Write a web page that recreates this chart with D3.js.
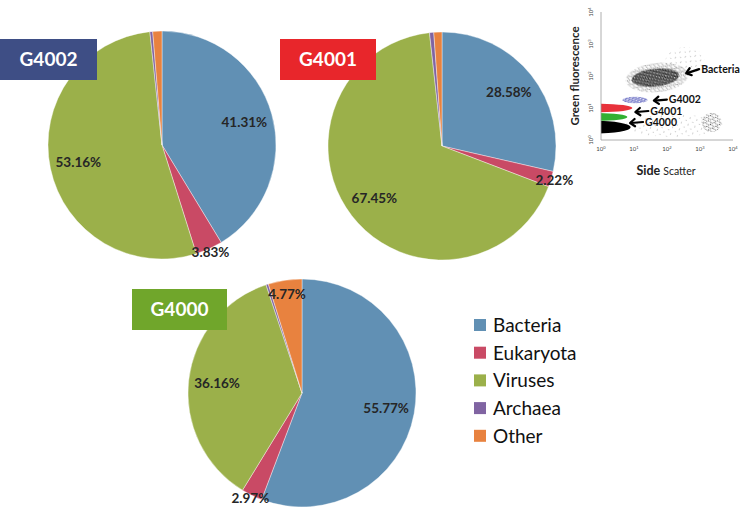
<!DOCTYPE html>
<html lang="en">
<head>
<meta charset="UTF-8">
<title>Metagenome composition of sorted populations</title>
<script src="https://d3js.org/d3.v7.min.js"></script>
<style>
  body { margin: 0; background: #fff; }
  svg { display: block; font-family: Lato, "Open Sans", sans-serif; }
</style>
</head>
<body>
<svg width="748" height="508"></svg>
<script>
// --- data ---
const domains = ["Bacteria", "Eukaryota", "Viruses", "Archaea", "Other"];
const domainColors = ["#6190b4", "#c94a65", "#9bb04a", "#8064a2", "#e8823f"];

const samples = ["G4002", "G4001", "G4000"];
const sampleColors = ["#3e4e85", "#e8262b", "#70a62b"];
const g4002 = [41.31, 3.83, 53.16, 0.4, 1.3];
const g4001 = [28.58, 2.22, 67.45, 0.6, 1.15];
const g4000 = [55.77, 2.97, 36.16, 0.33, 4.77];

// flow cytometry inset: populations as log10 centre / half-width, arrows
const popNames = ["haze", "tail", "right", "bacteriaHalo", "bacteria", "noise", "G4000", "G4001", "G4002"];
const popColors = ["#444", "#444", "#222", "#333", "#111", "#000", "#33b033", "#e8303a", "#6a6ec4"];
const popCx = [2.2, 2.55, 3.35, 1.7, 1.65, -0.2, -0.1, 0.0, 1.03];
const popCy = [0.45, 2.45, 0.55, 1.95, 1.95, 0.4, 0.72, 1.0, 1.25];
const popRx = [1.5, 0.6, 0.3, 0.95, 0.72, 1.1, 0.9, 0.95, 0.38];
const popRy = [0.35, 0.45, 0.3, 0.45, 0.28, 0.2, 0.12, 0.13, 0.1];
const popDensity = ["sparse", "sparse", "medium", "medium", "dense", "solid", "solid", "solid", "dense"];

const arrowLabels = ["Bacteria", "G4002", "G4001", "G4000"];
const arrowTipX = [380, 40, 11, 7.6];
const arrowTipY = [123, 17, 7.5, 3.4];
const decades = [1, 10, 100, 1000, 10000];
const decadeLabels = ["0", "1", "2", "3", "4"];

// --- layout ---
const svg = d3.select("svg");
const R = 114;
const pies = [
  { name: samples[0], values: g4002, cx: 162, cy: 145, box: [0, 39, 97, 41] },
  { name: samples[1], values: g4001, cx: 442, cy: 146, box: [280, 39, 96, 41] },
  { name: samples[2], values: g4000, cx: 302, cy: 393, box: [132, 289, 95, 41] }
];

const color = d3.scaleOrdinal(domains, domainColors);
const pie = d3.pie().sort(null).value(d => d.v);
const arc = d3.arc().innerRadius(0).outerRadius(R);

pies.forEach((p, i) => {
  const g = svg.append("g").attr("transform", `translate(${p.cx},${p.cy})`);
  const arcs = pie(domains.map((k, j) => ({ k, v: p.values[j] })));
  g.selectAll("path").data(arcs).join("path")
    .attr("d", arc)
    .attr("fill", d => color(d.data.k))
    .attr("stroke", "#fff").attr("stroke-width", 0.4);

  g.selectAll("text").data(arcs.filter(d => d.data.v >= 2)).join("text")
    .attr("transform", d => {
      const f = d.data.v < 4 ? 1.03 : d.data.v < 10 ? 0.88 : 0.75;
      const a = (d.startAngle + d.endAngle) / 2;
      return `translate(${Math.sin(a) * R * f},${-Math.cos(a) * R * f})`;
    })
    .attr("text-anchor", "middle").attr("dy", "0.35em")
    .attr("font-size", 13.5).attr("font-weight", 700).attr("fill", "#262626")
    .text(d => d3.format(".2f")(d.data.v) + "%");

  const [bx, by, bw, bh] = p.box;
  svg.append("rect").attr("x", bx).attr("y", by).attr("width", bw).attr("height", bh)
    .attr("fill", sampleColors[i]);
  svg.append("text").attr("x", bx + bw / 2).attr("y", by + bh / 2).attr("dy", "0.36em")
    .attr("text-anchor", "middle").attr("font-size", 19).attr("font-weight", 700)
    .attr("fill", "#fff").text(p.name);
});

// legend
const legend = svg.append("g").attr("transform", "translate(474,325)");
domains.forEach((k, i) => {
  const row = legend.append("g").attr("transform", `translate(0,${i * 27.7})`);
  row.append("rect").attr("x", 0).attr("y", -6).attr("width", 12).attr("height", 12)
    .attr("fill", color(k));
  row.append("text").attr("x", 19).attr("dy", "0.36em").attr("font-size", 19)
    .attr("fill", "#111").text(k);
});

// --- flow cytometry inset ---
const fx = d3.scaleLog().domain([1, 1e4]).range([601, 733]);
const fy = d3.scaleLog().domain([1, 1e4]).range([140, 12]);
const defs = svg.append("defs");
// stipple tiles: [size, dots as [x, y, r]]
const tiles = {
  dense: [3, [[0.6, 0.7, 0.85], [2.2, 1.1, 0.8], [1.3, 2.4, 0.85]]],
  medium: [4, [[1, 1.2, 0.55], [3.1, 2.2, 0.5], [1.6, 3.4, 0.5]]],
  sparse: [7, [[1.5, 2, 0.45], [5.2, 5.3, 0.4]]]
};

popNames.forEach((n, i) => {
  if (popDensity[i] === "solid") return;
  const [s, dots] = tiles[popDensity[i]];
  const pat = defs.append("pattern").attr("id", "pat" + i)
    .attr("patternUnits", "userSpaceOnUse").attr("width", s).attr("height", s)
    .attr("patternTransform", `rotate(${17 + i * 23})`);
  dots.forEach(([x, y, r]) =>
    pat.append("circle").attr("cx", x).attr("cy", y).attr("r", r).attr("fill", popColors[i]));
});
const soft = defs.append("filter").attr("id", "soft").attr("x", "-20%").attr("y", "-20%")
  .attr("width", "140%").attr("height", "140%");
soft.append("feGaussianBlur").attr("stdDeviation", 0.45);
defs.append("clipPath").attr("id", "plotclip").append("rect")
  .attr("x", fx(1)).attr("y", fy(1e4)).attr("width", fx(1e4) - fx(1)).attr("height", fy(1) - fy(1e4));

const inset = svg.append("g").attr("clip-path", "url(#plotclip)");
popNames.forEach((n, i) => {
  const x0 = fx(Math.pow(10, popCx[i] - popRx[i])), x1 = fx(Math.pow(10, popCx[i] + popRx[i]));
  const y0 = fy(Math.pow(10, popCy[i] + popRy[i])), y1 = fy(Math.pow(10, popCy[i] - popRy[i]));
  inset.append("ellipse")
    .attr("cx", (x0 + x1) / 2).attr("cy", (y0 + y1) / 2)
    .attr("rx", (x1 - x0) / 2).attr("ry", (y1 - y0) / 2)
    .attr("transform", n.startsWith("bacteria") ? `rotate(-6,${(x0 + x1) / 2},${(y0 + y1) / 2})` : null)
    .attr("fill", popDensity[i] === "solid" ? popColors[i] : `url(#pat${i})`)
    .attr("filter", "url(#soft)");
});

const axisCol = "#9a9a9a";
svg.append("line").attr("x1", fx(1)).attr("x2", fx(1)).attr("y1", fy(1e4)).attr("y2", fy(1))
  .attr("stroke", axisCol).attr("stroke-width", 0.8);
svg.append("line").attr("x1", fx(1)).attr("x2", fx(1e4)).attr("y1", fy(1)).attr("y2", fy(1))
  .attr("stroke", axisCol).attr("stroke-width", 0.8);

decades.forEach((d, i) => {
  const tx = svg.append("text").attr("x", fx(d)).attr("y", 151)
    .attr("text-anchor", "middle").attr("font-size", 6).attr("fill", "#444");
  tx.append("tspan").text("10");
  tx.append("tspan").attr("dy", -2.5).attr("font-size", 4).text(decadeLabels[i]);
  const ty = svg.append("text").attr("transform", `translate(593,${fy(d)}) rotate(-90)`)
    .attr("text-anchor", "middle").attr("font-size", 6).attr("fill", "#444");
  ty.append("tspan").text("10");
  ty.append("tspan").attr("dy", -2.5).attr("font-size", 4).text(decadeLabels[i]);
});

svg.append("text").attr("transform", "translate(579,76) rotate(-90)")
  .attr("text-anchor", "middle").attr("font-size", 11.5).attr("font-weight", 700)
  .attr("fill", "#222").text("Green fluorescence");
const xt = svg.append("text").attr("x", 666).attr("y", 175).attr("text-anchor", "middle")
  .attr("fill", "#222");
xt.append("tspan").attr("font-size", 12.5).attr("font-weight", 700).text("Side ");
xt.append("tspan").attr("font-size", 10.5).text("Scatter");

// arrows with labels
arrowLabels.forEach((lab, i) => {
  const x = fx(arrowTipX[i]), y = fy(arrowTipY[i]);
  const tail = [x + 13, y - (i === 0 ? 4 : 1)];
  const ang = Math.atan2(tail[1] - y, tail[0] - x);
  const hl = 6, ha = 0.65;
  const g = svg.append("g").attr("fill", "none").attr("stroke", "#000")
    .attr("stroke-width", 2.2).attr("stroke-linecap", "round").attr("stroke-linejoin", "round");
  g.append("line").attr("x1", tail[0]).attr("y1", tail[1]).attr("x2", x + 1).attr("y2", y);
  g.append("path").attr("d", d3.line()([
    [x + hl * Math.cos(ang - ha), y + hl * Math.sin(ang - ha)],
    [x, y],
    [x + hl * Math.cos(ang + ha), y + hl * Math.sin(ang + ha)]
  ]));
  svg.append("text").attr("x", tail[0] + 2).attr("y", tail[1]).attr("dy", "0.35em")
    .attr("font-size", 10.5).attr("font-weight", 700).attr("fill", "#111").text(lab);
});
</script>
</body>
</html>
